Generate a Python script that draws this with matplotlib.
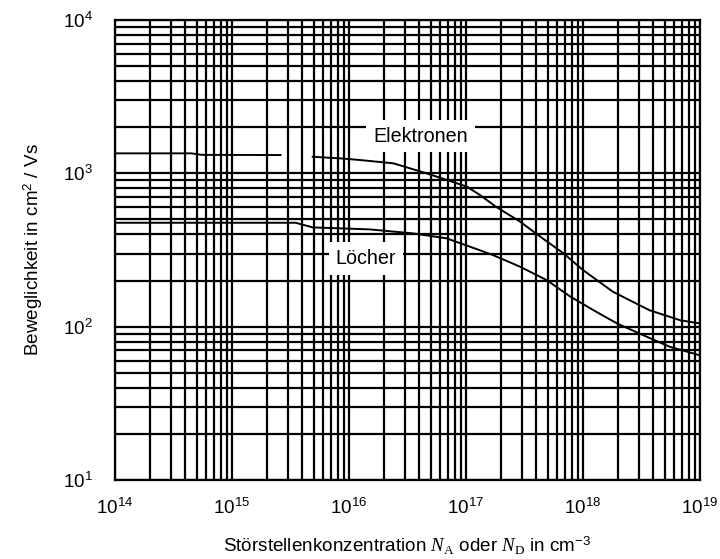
import numpy as np
import matplotlib
matplotlib.use('Agg')
import matplotlib.pyplot as plt
from matplotlib.ticker import LogLocator, NullFormatter, FixedLocator

# --------- data --------

# Elektronen; nan = small gap in the drawn line
n_el = [1e14, 4.5e14, 5.5e14, 2.6e15, np.nan, 4.9e15, 8.3e15, 1.23e16, 2.4e16,
        4.6e16, 6.9e16, 1.02e17, 1.32e17, 1.8e17, 2.9e17, 4.3e17, 6.8e17,
        1.0e18, 1.8e18, 3.7e18, 6.8e18, 1.0e19]
mu_el = [1350, 1350, 1320, 1316, np.nan, 1282, 1253, 1222, 1162,
         1000, 904, 818, 721, 606, 484, 387, 301,
         234, 169, 128, 110, 105]

# Löcher
n_h = [1e14, 3.5e15, 4.9e15, 1.5e16, 3.5e16, 6.8e16, 1.3e17, 1.7e17, 2.9e17,
       4.9e17, 7.8e17, 1.23e18, 1.95e18, 3.5e18, 5.5e18, 1.0e19]
mu_h = [476, 476, 444, 431, 406, 377, 316, 293, 246,
        201, 157, 128, 105, 86, 74, 65]

xticks = [1e14, 1e15, 1e16, 1e17, 1e18, 1e19]
xticklabels = [r'$\mathsf{10^{14}}$', r'$\mathsf{10^{15}}$', r'$\mathsf{10^{16}}$',
               r'$\mathsf{10^{17}}$', r'$\mathsf{10^{18}}$', r'$\mathsf{10^{19}}$']
yticks = [1e1, 1e2, 1e3, 1e4]
yticklabels = [r'$\mathsf{10^{1}}$', r'$\mathsf{10^{2}}$',
               r'$\mathsf{10^{3}}$', r'$\mathsf{10^{4}}$']

# --------- plot-params -----------

plt.rcParams['font.family'] = ['Liberation Sans', 'DejaVu Sans']
plt.rcParams['mathtext.fontset'] = 'custom'
plt.rcParams['mathtext.rm'] = 'Liberation Serif'
plt.rcParams['mathtext.it'] = 'Liberation Serif:italic'
plt.rcParams['mathtext.sf'] = 'Liberation Sans'

gridlw = 1.6
ticksize = 13.5
labelsize = 13.6
textsize = 14.2

fig = plt.figure(figsize=(7.2, 5.59), dpi=100)
ax = fig.add_axes([115 / 720, 1 - 480 / 559, 585 / 720, 460 / 559])

ax.set_xscale('log')
ax.set_yscale('log')
ax.set_xlim(1e14, 1e19)
ax.set_ylim(1e1, 1e4)

ax.xaxis.set_major_locator(FixedLocator(xticks))
ax.yaxis.set_major_locator(FixedLocator(yticks))
ax.xaxis.set_minor_locator(LogLocator(base=10, subs=np.arange(2, 10), numticks=100))
ax.yaxis.set_minor_locator(LogLocator(base=10, subs=np.arange(2, 10), numticks=100))
ax.xaxis.set_minor_formatter(NullFormatter())
ax.yaxis.set_minor_formatter(NullFormatter())
ax.set_xticklabels(xticklabels)
ax.set_yticklabels(yticklabels)

ax.tick_params(which='both', length=0)
ax.tick_params(axis='x', pad=13, labelsize=ticksize)
ax.tick_params(axis='y', pad=16, labelsize=ticksize)

ax.grid(which='both', color='black', linewidth=gridlw)
ax.set_axisbelow(True)
for sp in ax.spines.values():
    sp.set_linewidth(gridlw)
    sp.set_color('black')

ax.plot(n_el, mu_el, color='black', lw=1.4)
ax.plot(n_h, mu_h, color='black', lw=1.4)

ax.text(4.1e16, 1750, 'Elektronen', fontsize=textsize, ha='center', va='center',
        bbox=dict(boxstyle='square,pad=0.35', facecolor='white', edgecolor='none'))
ax.text(1.4e16, 280, 'Löcher', fontsize=textsize, ha='center', va='center',
        bbox=dict(boxstyle='square,pad=0.35', facecolor='white', edgecolor='none'))

fig.text(407 / 720, 1 - 546 / 559,
         r'Störstellenkonzentration $N_\mathrm{A}$ oder $N_\mathrm{D}$ in cm$^{\mathsf{-3}}$',
         fontsize=labelsize, ha='center', va='center')
fig.text(33 / 720, 1 - 250 / 559, r'Beweglichkeit in cm$^{\mathsf{2}}$ / Vs',
         fontsize=labelsize, ha='center', va='center', rotation=90)

fig.savefig('out.png', dpi=100)
